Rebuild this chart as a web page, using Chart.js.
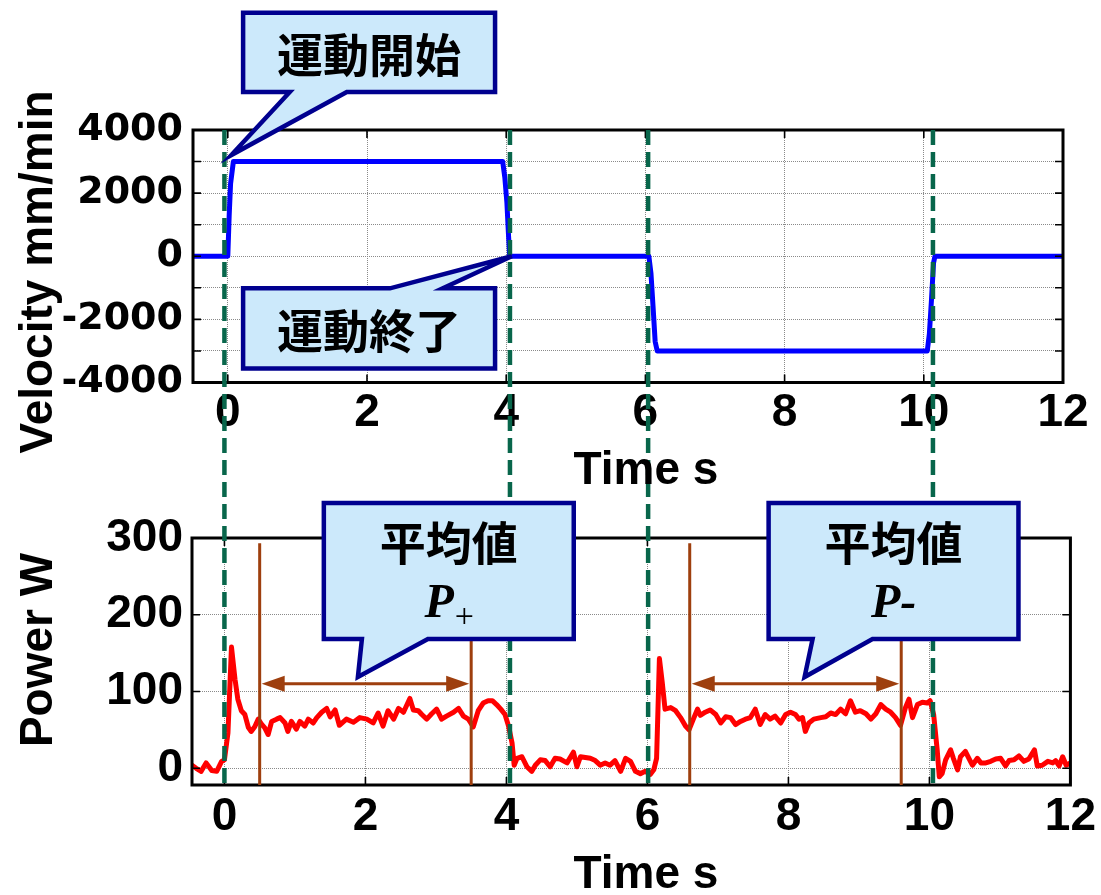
<!DOCTYPE html>
<html>
<head>
<meta charset="utf-8">
<script src="https://cdn.jsdelivr.net/npm/chart.js@4.4.1/dist/chart.umd.min.js"></script>
<style>
  html, body { margin: 0; padding: 0; background: #fff; overflow: hidden; }
  #wrap { position: relative; width: 1101px; height: 895px; }
  #cvVel { position: absolute; left: 0; top: 0; }
  #cvPow { position: absolute; left: 0; top: 495px; }
</style>
</head>
<body>
<div id="wrap">
  <canvas id="cvVel" width="1101" height="495"></canvas>
  <canvas id="cvPow" width="1101" height="400"></canvas>
</div>
<script>
// ---------- data ----------
// table feed velocity (mm/min) against time (s)
const velTime  = [-0.5, 0.0, 0.02, 0.04, 0.08, 1, 2, 3, 3.95, 3.98, 4.01, 4.03, 4.05, 5,
                  6.05, 6.08, 6.11, 6.14, 6.17, 7, 8, 9, 10.05, 10.08, 10.11, 10.14, 10.16, 11, 12];
const velValue = [0, 0, 1300, 2300, 3000, 3000, 3000, 3000, 3000, 2500, 1700, 800, 0, 0,
                  0, -540, -1600, -2700, -3000, -3000, -3000, -3000, -3000, -2460, -1390, -210, 0, 0, 0];

// measured electrical power (W) against time (s)
const powerTime = [
  -0.46, -0.40, -0.33, -0.26, -0.18, -0.11, -0.04, 0.0, 0.05, 0.10, 0.15, 0.19, 0.24, 0.29, 0.34, 0.38,
  0.43, 0.48, 0.53, 0.57, 0.62, 0.67, 0.74, 0.79, 0.86, 0.90, 0.95, 1.02, 1.07, 1.14, 1.19, 1.26,
  1.31, 1.38, 1.45, 1.50, 1.57, 1.63, 1.73, 1.83, 1.92, 2.02, 2.11, 2.18, 2.25, 2.32, 2.40, 2.47,
  2.54, 2.63, 2.68, 2.75, 2.80, 2.87, 2.94, 3.01, 3.08, 3.15, 3.25, 3.32, 3.39, 3.46, 3.53, 3.60,
  3.67, 3.74, 3.80, 3.86, 3.92, 3.98, 4.03, 4.08, 4.11, 4.15, 4.22, 4.29, 4.36, 4.41, 4.48, 4.55,
  4.62, 4.69, 4.76, 4.86, 4.95, 5.00, 5.05, 5.12, 5.19, 5.26, 5.33, 5.40, 5.47, 5.54, 5.62, 5.69,
  5.76, 5.83, 5.90, 5.97, 6.04, 6.09, 6.13, 6.17, 6.21, 6.25, 6.33, 6.40, 6.47, 6.54, 6.59, 6.66,
  6.71, 6.75, 6.82, 6.89, 6.97, 7.04, 7.11, 7.18, 7.25, 7.32, 7.39, 7.46, 7.53, 7.60, 7.67, 7.74,
  7.81, 7.89, 7.96, 8.03, 8.10, 8.15, 8.20, 8.24, 8.29, 8.36, 8.46, 8.53, 8.60, 8.67, 8.74, 8.81,
  8.88, 8.95, 9.02, 9.10, 9.17, 9.24, 9.31, 9.38, 9.45, 9.52, 9.59, 9.66, 9.71, 9.76, 9.83, 9.90,
  9.97, 10.01, 10.06, 10.11, 10.14, 10.18, 10.23, 10.30, 10.34, 10.40, 10.44, 10.51, 10.56, 10.61, 10.68, 10.73,
  10.80, 10.87, 10.94, 11.01, 11.08, 11.13, 11.20, 11.27, 11.34, 11.41, 11.49, 11.53, 11.60, 11.68, 11.75, 11.79,
  11.84, 11.89, 11.94, 11.98, 12.0
];
const powerValue = [
  4, 0, -4, 7, -3, -4, 9, 11, 46, 158, 116, 90, 75, 70, 53, 48,
  54, 64, 57, 53, 44, 61, 64, 66, 59, 48, 61, 51, 61, 55, 64, 59,
  66, 73, 78, 67, 76, 56, 64, 60, 66, 64, 59, 72, 55, 75, 64, 78,
  73, 91, 76, 75, 70, 64, 71, 77, 64, 68, 73, 78, 68, 64, 54, 75,
  85, 88, 88, 83, 77, 70, 55, 33, 4, 13, 15, 2, -4, 4, 11, 10,
  2, 13, 12, 7, 21, 2, 15, 14, 13, 10, 4, 7, 4, 10, -4, 13,
  9, -4, -7, -4, -8, -2, 13, 143, 112, 77, 79, 75, 66, 55, 50, 66,
  77, 69, 73, 76, 70, 59, 67, 66, 57, 61, 64, 66, 77, 57, 70, 64,
  68, 59, 70, 73, 70, 64, 66, 48, 59, 64, 66, 67, 72, 70, 77, 71,
  88, 73, 75, 71, 64, 71, 83, 77, 73, 66, 56, 79, 90, 66, 83, 86,
  85, 88, 70, 24, -11, -7, 11, 24, 13, -2, 15, 22, 13, 4, 13, 7,
  7, 9, 12, 13, 3, 10, 11, 16, 9, 12, 24, 3, 4, 9, 7, 10,
  3, 15, 4, 6, 7
];

// axis ticks
const timeTicks  = [0, 2, 4, 6, 8, 10, 12];
const velTicks   = [-4000, -3000, -2000, -1000, 0, 1000, 2000, 3000, 4000];
const powerTicks = [0, 100, 200, 300];

// motion start / stop instants (s) and the averaging windows (s)
const motionEdges = [0.0, 4.05, 6.01, 10.05];
const avgWindows  = [[0.5, 3.5], [6.6, 9.6]];
const avgMarkerTop = 293;   // W, top end of the window markers
const avgArrowLevel = 110;  // W, level of the span arrows

// ---------- annotation layout (axis units) ----------
const velNotes = [
  { text: '運動開始', box: [0.22, 3.84, 7714, 5206], tail: [0.89, 1.71], tip: [0.05, 3206], side: 'bottom' },
  { text: '運動終了', box: [0.22, 3.84, -1016, -3556], tail: [2.33, 3.09], tip: [4.08, 0], side: 'top' }
];
const powerNotes = [
  { text: '平均値', sym: '+', box: [1.41, 4.955, 345.6, 168.3], tail: [1.95, 2.886], tip: [1.893, 118.8], side: 'bottom' },
  { text: '平均値', sym: '-', box: [7.719, 11.263, 345.6, 168.3], tail: [8.343, 9.193], tip: [8.229, 118.8], side: 'bottom' }
];

// ---------- styles ----------
const SANS = '"Liberation Sans", Arial, sans-serif';
const CJK = '"Noto Sans CJK JP", sans-serif';
const SERIF = '"Liberation Serif", "Times New Roman", serif';
const EDGE_GREEN = '#08664b';
const BROWN = '#9e3f0e';
const NOTE_FILL = '#cce9fb';
const NOTE_LINE = '#00008f';
const GRID = '#8a8a8a';
const DASH = [15, 7];

function drawFrame(ctx, a, xs, ys, yTickVals, xTickVals) {
  ctx.save();
  ctx.strokeStyle = '#000';
  ctx.lineWidth = 1.6;
  const len = 8;
  ctx.beginPath();
  yTickVals.forEach(v => {
    const p = ys.getPixelForValue(v);
    ctx.moveTo(a.left, p); ctx.lineTo(a.left + len, p);
    ctx.moveTo(a.right, p); ctx.lineTo(a.right - len, p);
  });
  xTickVals.forEach(v => {
    const p = xs.getPixelForValue(v);
    ctx.moveTo(p, a.bottom); ctx.lineTo(p, a.bottom - len);
    ctx.moveTo(p, a.top); ctx.lineTo(p, a.top + len);
  });
  ctx.stroke();
  ctx.lineWidth = 3;
  ctx.strokeRect(a.left, a.top, a.right - a.left, a.bottom - a.top);
  ctx.restore();
}

function drawEdges(ctx, px, y0, y1, offset) {
  ctx.save();
  ctx.strokeStyle = EDGE_GREEN;
  ctx.lineWidth = 4.5;
  ctx.setLineDash(DASH);
  ctx.lineDashOffset = offset;
  ctx.beginPath();
  px.forEach(x => { ctx.moveTo(x, y0); ctx.lineTo(x, y1); });
  ctx.stroke();
  ctx.restore();
}

function drawNote(ctx, n, xs, ys) {
  const l = xs.getPixelForValue(n.box[0]), r = xs.getPixelForValue(n.box[1]);
  const t = ys.getPixelForValue(n.box[2]), b = ys.getPixelForValue(n.box[3]);
  const ta = xs.getPixelForValue(n.tail[0]), tb = xs.getPixelForValue(n.tail[1]);
  const px = xs.getPixelForValue(n.tip[0]), py = ys.getPixelForValue(n.tip[1]);
  ctx.save();
  ctx.beginPath();
  if (n.side === 'bottom') {
    ctx.moveTo(l, t); ctx.lineTo(r, t); ctx.lineTo(r, b); ctx.lineTo(tb, b);
    ctx.lineTo(px, py); ctx.lineTo(ta, b); ctx.lineTo(l, b);
  } else {
    ctx.moveTo(l, t); ctx.lineTo(ta, t); ctx.lineTo(px, py); ctx.lineTo(tb, t);
    ctx.lineTo(r, t); ctx.lineTo(r, b); ctx.lineTo(l, b);
  }
  ctx.closePath();
  ctx.fillStyle = NOTE_FILL;
  ctx.fill();
  ctx.lineWidth = 4.5;
  ctx.lineJoin = 'miter';
  ctx.strokeStyle = NOTE_LINE;
  ctx.stroke();

  const cx = (l + r) / 2;
  ctx.fillStyle = '#000';
  ctx.textAlign = 'center';
  ctx.textBaseline = 'middle';
  ctx.font = 'bold 46px ' + CJK;
  if (!n.sym) {
    ctx.fillText(n.text, cx, (t + b) / 2 + 2);
  } else {
    ctx.fillText(n.text, cx, t + 40);
    const base = t + 114;
    ctx.textBaseline = 'alphabetic';
    const pFont = 'italic bold 48px ' + SERIF;
    if (n.sym === '+') {
      const sFont = '34px ' + SERIF;
      ctx.font = pFont;
      const wP = ctx.measureText('P').width;
      ctx.font = sFont;
      const wS = ctx.measureText('+').width;
      const x0 = cx - (wP + wS) / 2;
      ctx.textAlign = 'left';
      ctx.font = pFont;
      ctx.fillText('P', x0, base);
      ctx.font = sFont;
      ctx.textBaseline = 'middle';
      ctx.fillText('+', x0 + wP + 1, base + 1);
    } else {
      ctx.font = pFont;
      ctx.fillText('P-', cx, base);
    }
  }
  ctx.restore();
}

function drawTitle(ctx, text, x, y, rotated) {
  ctx.save();
  ctx.font = 'bold 46px ' + SANS;
  ctx.fillStyle = '#000';
  ctx.textAlign = 'center';
  ctx.textBaseline = 'alphabetic';
  ctx.translate(x, y);
  if (rotated) ctx.rotate(-Math.PI / 2);
  ctx.fillText(text, 0, 0);
  ctx.restore();
}

function setTicks(list) {
  return scale => { scale.ticks = list.map(v => ({ value: v })); };
}

const common = {
  responsive: false,
  animation: false,
  events: [],
  devicePixelRatio: 1,
  plugins: { legend: { display: false }, tooltip: { enabled: false } }
};

// ---------- power chart ----------
const powerChart = new Chart(document.getElementById('cvPow'), {
  type: 'line',
  data: {
    datasets: [{
      data: powerTime.map((t, i) => ({ x: t, y: powerValue[i] })),
      borderColor: '#ff0000',
      borderWidth: 5,
      pointRadius: 0,
      tension: 0,
      borderJoinStyle: 'round',
      borderCapStyle: 'round'
    }]
  },
  options: Object.assign({}, common, {
    layout: { padding: { top: 43, right: 30, left: 0, bottom: 0 } },
    scales: {
      x: {
        type: 'linear', min: -0.46, max: 12,
        afterBuildTicks: setTicks(timeTicks),
        afterFit: s => { s.height = 110; },
        grid: { color: GRID, lineWidth: 1, drawTicks: false },
        border: { display: false, dash: [1, 1] },
        ticks: { font: { family: SANS, size: 46, weight: 'bold' }, color: '#000', padding: 5, maxRotation: 0, autoSkip: false }
      },
      y: {
        type: 'linear', min: -21.8, max: 300,
        afterBuildTicks: setTicks(powerTicks),
        afterFit: s => { s.width = 192; },
        grid: { color: GRID, lineWidth: 1, drawTicks: false },
        border: { display: false, dash: [1, 1] },
        ticks: { font: { family: SANS, size: 46, weight: 'bold' }, color: '#000', padding: 9, autoSkip: false }
      }
    }
  }),
  plugins: [{
    id: 'powerDecor',
    afterDatasetsDraw(chart) {
      const { ctx, chartArea: a, scales: { x, y } } = chart;
      drawFrame(ctx, a, x, y, powerTicks, timeTicks);

      // averaging windows with span arrows
      ctx.save();
      ctx.strokeStyle = BROWN;
      ctx.fillStyle = BROWN;
      ctx.lineWidth = 3;
      const yt = y.getPixelForValue(avgMarkerTop);
      const ya = y.getPixelForValue(avgArrowLevel);
      const head = 25, half = 8;
      avgWindows.forEach(([t0, t1]) => {
        const x0 = x.getPixelForValue(t0), x1 = x.getPixelForValue(t1);
        ctx.beginPath();
        ctx.moveTo(x0, yt); ctx.lineTo(x0, a.bottom);
        ctx.moveTo(x1, yt); ctx.lineTo(x1, a.bottom);
        ctx.moveTo(x0 + head - 2, ya); ctx.lineTo(x1 - head + 2, ya);
        ctx.stroke();
        ctx.beginPath();
        ctx.moveTo(x0 + 2, ya); ctx.lineTo(x0 + head, ya - half); ctx.lineTo(x0 + head, ya + half); ctx.closePath();
        ctx.moveTo(x1 - 2, ya); ctx.lineTo(x1 - head, ya - half); ctx.lineTo(x1 - head, ya + half); ctx.closePath();
        ctx.fill();
      });
      ctx.restore();

      // motion start / stop guides (continued from the velocity panel)
      drawEdges(ctx, motionEdges.map(t => x.getPixelForValue(t)), 0, a.bottom, 365);

      powerNotes.forEach(n => drawNote(ctx, n, x, y));

      drawTitle(ctx, 'Power W', 52, 155, true);
      drawTitle(ctx, 'Time s', 646, 393, false);
    }
  }]
});

// ---------- velocity chart ----------
new Chart(document.getElementById('cvVel'), {
  type: 'line',
  data: {
    datasets: [{
      data: velTime.map((t, i) => ({ x: t, y: velValue[i] })),
      borderColor: '#0000ff',
      borderWidth: 5,
      pointRadius: 0,
      tension: 0,
      borderJoinStyle: 'round',
      borderCapStyle: 'round'
    }]
  },
  options: Object.assign({}, common, {
    layout: { padding: { top: 130, right: 38, left: 0, bottom: 0 } },
    scales: {
      x: {
        type: 'linear', min: -0.5, max: 12,
        afterBuildTicks: setTicks(timeTicks),
        afterFit: s => { s.height = 112.5; },
        grid: { color: GRID, lineWidth: 1, drawTicks: false },
        border: { display: false, dash: [1, 1] },
        ticks: { font: { family: SANS, size: 46, weight: 'bold' }, color: '#000', padding: 3, maxRotation: 0, autoSkip: false }
      },
      y: {
        type: 'linear', min: -4000, max: 4000,
        afterBuildTicks: setTicks(velTicks),
        afterFit: s => { s.width = 193; },
        grid: { color: GRID, lineWidth: 1, drawTicks: false },
        border: { display: false, dash: [1, 1] },
        ticks: {
          font: { family: '"DejaVu Sans", sans-serif', size: 38, weight: 'bold' }, color: '#000', padding: 10, autoSkip: false,
          callback: v => (v % 2000 === 0 ? String(v) : '')
        }
      }
    }
  }),
  plugins: [{
    id: 'velDecor',
    afterDatasetsDraw(chart) {
      const { ctx, chartArea: a, scales: { x, y } } = chart;
      drawFrame(ctx, a, x, y, velTicks, timeTicks);
      const px = motionEdges.map(t => powerChart.scales.x.getPixelForValue(t));
      drawEdges(ctx, px, a.top, chart.height, 0);
      velNotes.forEach(n => drawNote(ctx, n, x, y));
      drawTitle(ctx, 'Velocity mm/min', 52, 272, true);
      drawTitle(ctx, 'Time s', 646, 484, false);
    }
  }]
});
</script>
</body>
</html>
